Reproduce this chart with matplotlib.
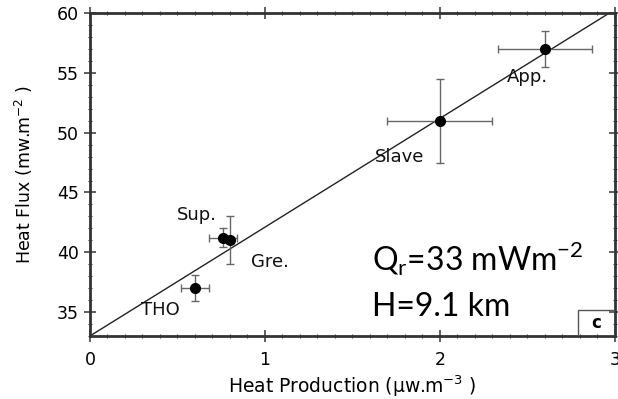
import numpy as np
import matplotlib.pyplot as plt
from matplotlib.patches import Rectangle
from matplotlib.ticker import MultipleLocator

# heat production (µW/m3) vs surface heat flow (mW/m2) per province
names = ["THO", "Sup.", "Gre.", "Slave", "App."]
heat_prod = [0.60, 0.76, 0.80, 2.00, 2.60]
heat_prod_err = [0.08, 0.08, 0.02, 0.30, 0.27]
heat_flux = [37.0, 41.2, 41.0, 51.0, 57.0]
heat_flux_err = [1.1, 0.8, 2.0, 3.5, 1.5]
label_pos = [(0.40, 35.2), (0.61, 43.1), (1.03, 39.2), (1.77, 48.0), (2.50, 54.7)]

# linear fit: Q = Qr + H * A
q_r = 33.0
h_depth = 9.1

fig = plt.figure(figsize=(6.18, 3.99), dpi=100)
ax = fig.add_axes([0.1456, 0.158, 0.8494, 0.809])

a = np.array([0.0, 3.0])
ax.plot(a, q_r + h_depth * a, color="#222222", lw=1.0, zorder=2)

ax.errorbar(heat_prod, heat_flux, xerr=heat_prod_err, yerr=heat_flux_err,
            fmt="none", ecolor="#666666", elinewidth=1.0, capsize=3,
            capthick=1.0, zorder=3)
ax.plot(heat_prod, heat_flux, "o", color="black", ms=7, zorder=4)

for name, (lx, ly) in zip(names, label_pos):
    ax.text(lx, ly, name, fontsize=13, family="DejaVu Sans",
            ha="center", va="center", color="#111111", zorder=5)

ax.text(1.61, 38.5, r"Q$_\mathregular{r}$=33 mWm$^\mathregular{-2}$",
        fontsize=23, family="Lato", color="black", ha="left", va="baseline")
ax.text(1.61, 34.7, "H=9.1 km", fontsize=23, family="Lato",
        color="black", ha="left", va="baseline")

# panel tag in the lower right corner
ax.add_patch(Rectangle((0.930, 0.0), 0.07, 0.08, transform=ax.transAxes,
                       fill=False, edgecolor="#555555", lw=1.0, zorder=5))
ax.text(0.965, 0.04, "c", transform=ax.transAxes, fontsize=12,
        fontweight="bold", family="DejaVu Sans", ha="center", va="center")

ax.set_xlim(0, 3)
ax.set_ylim(33, 60)
ax.xaxis.set_major_locator(MultipleLocator(1))
ax.xaxis.set_minor_locator(MultipleLocator(0.1))
ax.yaxis.set_major_locator(MultipleLocator(5))
ax.yaxis.set_minor_locator(MultipleLocator(1))
ax.tick_params(which="both", top=True, right=True, color="#444444")
ax.tick_params(which="major", direction="inout", length=8, width=1.2,
               labelsize=12.5)
ax.tick_params(axis="x", which="major", pad=7)
ax.tick_params(axis="y", which="major", pad=4)
ax.tick_params(which="minor", direction="inout", length=3, width=0.8)
for lab in ax.get_xticklabels() + ax.get_yticklabels():
    lab.set_family("DejaVu Sans")

for sp in ax.spines.values():
    sp.set_linewidth(2.0)
    sp.set_color("#333333")

ax.set_xlabel(r"Heat Production (µw.m$^{-3}$ )", fontsize=13.5,
              family="DejaVu Sans", labelpad=3)
ax.set_ylabel(r"Heat Flux (mw.m$^{-2}$ )", fontsize=12.5,
              family="DejaVu Sans", labelpad=16)

fig.savefig("out.png", dpi=100)
